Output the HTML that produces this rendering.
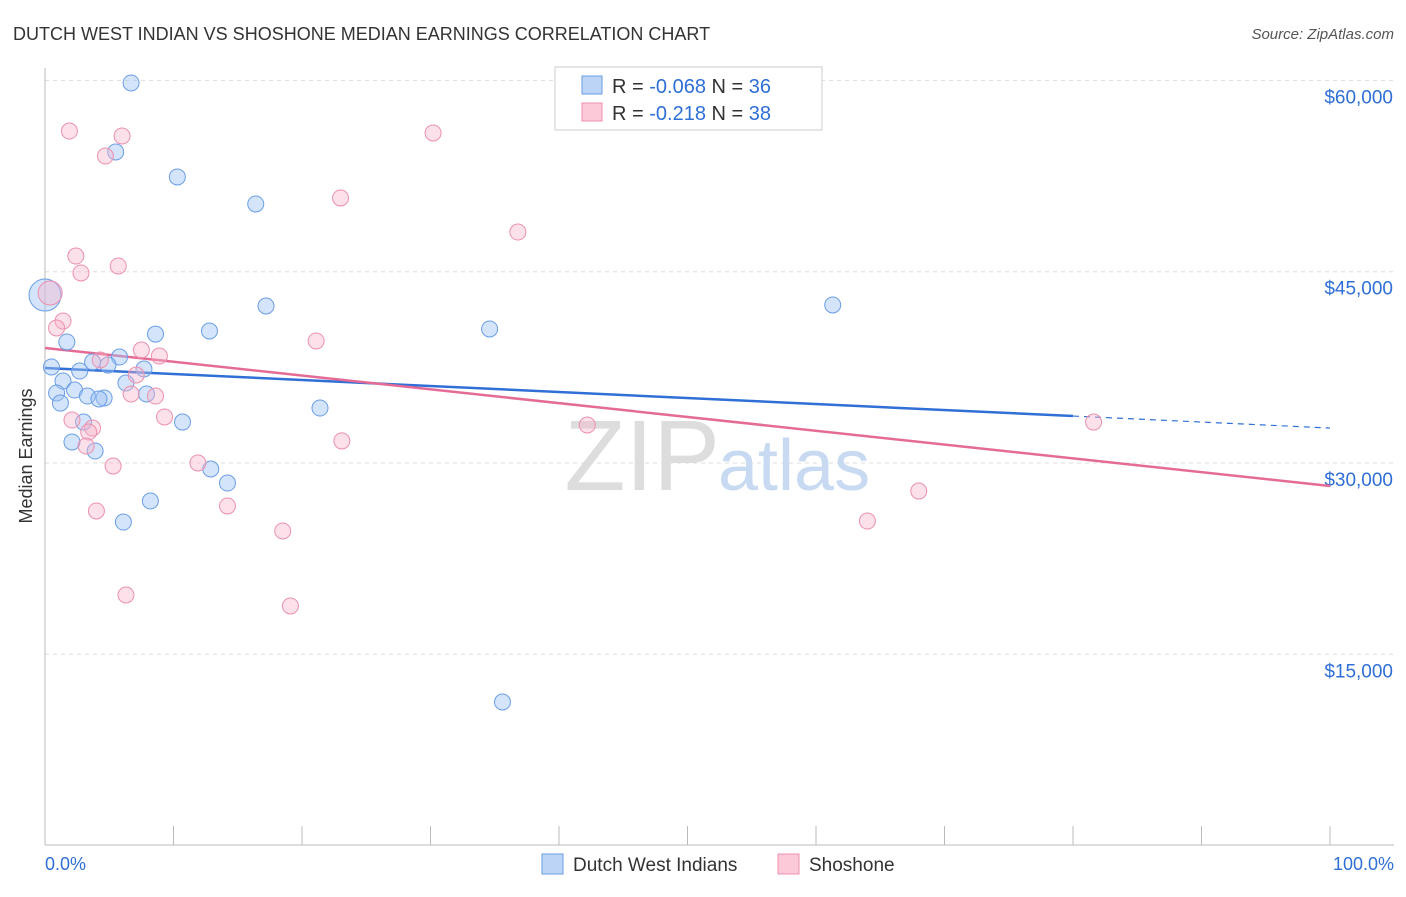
<!DOCTYPE html>
<html><head><meta charset="utf-8">
<style>
body{margin:0;background:#fff;font-family:"Liberation Sans",Arial,sans-serif;}
svg text{font-family:"Liberation Sans",Arial,sans-serif;}
</style></head>
<body>
<svg id="chart" width="1406" height="892">
<text x="13" y="40" font-size="18" fill="#333">DUTCH WEST INDIAN VS SHOSHONE MEDIAN EARNINGS CORRELATION CHART</text>
<text x="1394" y="39" font-size="15" fill="#555" font-style="italic" text-anchor="end">Source: ZipAtlas.com</text>
<text x="32" y="456" font-size="18" fill="#333" text-anchor="middle" transform="rotate(-90 32 456)">Median Earnings</text>
<g id="grid"></g>
<text x="720" y="490" font-size="100" fill="#ddd" font-family="Liberation Serif" text-anchor="end">ZIP</text>
<text x="718" y="490" font-size="72" fill="#c8daf2">atlas</text>
<g id="trend"></g>
<g id="pts"></g>
<g>
<rect x="555" y="67" width="267" height="63" fill="#fff" stroke="#ccc"/>
<rect x="582" y="76" width="20" height="18" fill="#bcd5f7" stroke="#6a9ee6"/>
<rect x="582" y="103" width="20" height="18" fill="#fbc9d8" stroke="#ec90ae"/>
<text x="612" y="93" font-size="20" fill="#333">R = <tspan fill="#2f6fd6">-0.068</tspan>   N = <tspan fill="#2f6fd6">36</tspan></text>
<text x="612" y="120" font-size="20" fill="#333">R =  <tspan fill="#2f6fd6">-0.218</tspan>   N = <tspan fill="#2f6fd6">38</tspan></text>
</g>
<text x="45" y="870" font-size="18" fill="#2f6fd6">0.0%</text>
<text x="1394" y="870" font-size="18" fill="#2f6fd6" text-anchor="end">100.0%</text>
<g>
<rect x="542" y="854" width="21" height="20" fill="#bcd5f7" stroke="#6a9ee6"/>
<text x="573" y="871" font-size="19" fill="#333">Dutch West Indians</text>
<rect x="778" y="854" width="21" height="20" fill="#fbc9d8" stroke="#ec90ae"/>
<text x="809" y="871" font-size="19" fill="#333">Shoshone</text>
</g>
</svg>
<script>
const yTicks=[15000,30000,45000,60000];
const yTickLabels=["$15,000","$30,000","$45,000","$60,000"];
const blueX=[6.7,5.5,10.3,16.4,17.2,61.3,34.6,12.8,8.6,1.7,0,5.8,3.7,4.9,7.7,0.5,2.7,1.4,6.3,2.3,0.9,3.3,4.6,4.2,1.2,7.9,21.4,3.0,10.7,2.1,3.9,12.9,14.2,8.2,6.1,35.6];
const blueY=[59800,54390,52430,50310,42310,42390,40510,40350,40110,39490,43170,38310,37920,37680,37370,37530,37210,36430,36270,35720,35490,35250,35100,35020,34700,35410,34310,33210,33210,31650,30940,29530,28430,27020,25370,11260];
const pinkX=[1.9,6.0,30.2,4.7,23.0,36.8,2.4,5.7,2.8,0.4,1.4,0.9,21.1,7.5,8.9,4.3,7.1,6.7,8.6,9.3,2.1,3.7,3.4,3.2,23.1,42.2,81.6,5.3,11.9,68.0,4.0,14.2,64.0,18.5,6.3,19.1];
const pinkY=[56030,55640,55880,54070,50780,48110,46230,45450,44900,43330,41130,40590,39570,38860,38390,38080,36900,35410,35250,33610,33370,32740,32430,31330,31730,32980,33210,29760,30000,27800,26240,26630,25450,24670,19650,18790];
const blueTrend=[37450,32740];
const pinkTrend=[39020,28200];
const NS="http://www.w3.org/2000/svg";
const xs=p=>45+p*12.85;
const ys=v=>463-(v-30000)*191.3/15000;
function mk(tag,attrs,parent){const e=document.createElementNS(NS,tag);for(const k in attrs)e.setAttribute(k,attrs[k]);parent.appendChild(e);return e;}
const grid=document.getElementById('grid');
yTicks.forEach((t,i)=>{
 const l=mk('line',{x1:45,x2:1394,y1:ys(t),y2:ys(t),stroke:'#ddd','stroke-dasharray':'4,4'},grid);
 
 
 const tx=mk('text',{x:1393,y:ys(t)+23,'font-size':19,fill:'#2f6fd6','text-anchor':'end'},grid);
 tx.textContent=yTickLabels[i];
 
 
});
const ax=mk('line',{x1:45,x2:1394,y1:845,y2:845,stroke:'#bbb'},grid);


const ay=mk('line',{x1:45,x2:45,y1:68,y2:845,stroke:'#bbb'},grid);


for(let i=0;i<=10;i++){
 const t=mk('line',{x1:xs(i*10),x2:xs(i*10),y1:826,y2:845,stroke:'#bbb'},grid);
 
 
}
const tr=document.getElementById('trend');
const bEnd=80;
const bMid=blueTrend[0]+(blueTrend[1]-blueTrend[0])*bEnd/100;
let l1=mk('line',{x1:xs(0),y1:ys(blueTrend[0]),x2:xs(bEnd),y2:ys(bMid),stroke:'#2f6fd6','stroke-width':2.5},tr);


let l2=mk('line',{x1:xs(bEnd),y1:ys(bMid),x2:xs(100),y2:ys(blueTrend[1]),stroke:'#2f6fd6','stroke-width':1.2,'stroke-dasharray':'6,5'},tr);


let l3=mk('line',{x1:xs(0),y1:ys(pinkTrend[0]),x2:xs(100),y2:ys(pinkTrend[1]),stroke:'#e46b96','stroke-width':2.5},tr);


const pts=document.getElementById('pts');
blueX.forEach((x,i)=>{
 const c=mk('circle',{cx:xs(x),cy:ys(blueY[i]),r:i==10?16:8,fill:'rgba(160,196,245,0.45)',stroke:'#6a9ee6','stroke-width':1},pts);
 
 
});
pinkX.forEach((x,i)=>{
 const c=mk('circle',{cx:xs(x),cy:ys(pinkY[i]),r:i==9?12:8,fill:'rgba(248,180,202,0.4)',stroke:'#ec90ae','stroke-width':1},pts);
 
 
});
</script>
</body></html>
